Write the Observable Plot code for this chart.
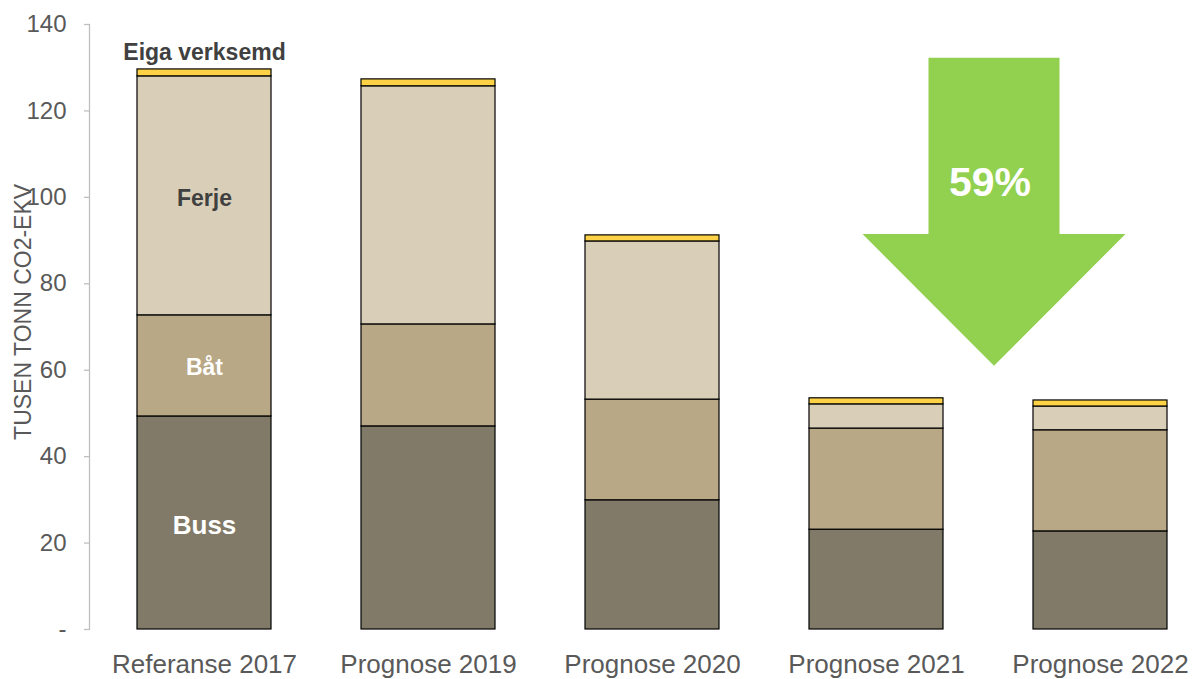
<!DOCTYPE html>
<html>
<head>
<meta charset="utf-8">
<script src="https://cdn.jsdelivr.net/npm/d3@7"></script>
<script src="https://cdn.jsdelivr.net/npm/@observablehq/plot@0.6"></script>
<style>
  html, body { margin: 0; padding: 0; background: #fff; }
  #chart svg { display: block; }
</style>
</head>
<body>
<div id="chart"></div>
<script>
const categories = ["Referanse 2017", "Prognose 2019", "Prognose 2020", "Prognose 2021", "Prognose 2022"];
const series = ["Buss", "Båt", "Ferje", "Eiga verksemd"];
const buss  = [49.3, 47.0, 29.9, 23.1, 22.7];
const baat  = [23.4, 23.6, 23.3, 23.4, 23.4];
const ferje = [55.3, 55.1, 36.6, 5.6, 5.5];
const eiga  = [1.6, 1.6, 1.4, 1.4, 1.4];
const yTicks = [0, 20, 40, 60, 80, 100, 120, 140];
const colors = ["#827a69", "#b8a886", "#d9cfb8", "#fdd247"];
const reductionLabel = "59%";

const valuesBySeries = [buss, baat, ferje, eiga];
const rows = [];
categories.forEach((c, i) => {
  series.forEach((s, j) => rows.push({category: c, series: s, value: valuesBySeries[j][i], order: j}));
});

// labels inside first bar (midpoints of segments)
const first = 0;
const cum = [];
let acc = 0;
valuesBySeries.forEach(v => { cum.push([acc, acc + v[first]]); acc += v[first]; });
const segLabels = [
  {category: categories[0], y: (cum[0][0] + cum[0][1]) / 2 - 0.6, text: "Buss", fill: "#ffffff", size: 26},
  {category: categories[0], y: (cum[1][0] + cum[1][1]) / 2 - 0.5, text: "Båt", fill: "#ffffff", size: 23},
  {category: categories[0], y: (cum[2][0] + cum[2][1]) / 2 - 0.6, text: "Ferje", fill: "#404040", size: 23},
];
const topLabel = [{category: categories[0], y: acc + 3.8, text: "Eiga verksemd"}];

// arrow annotation (in data units for y, between the last two categories for x)
const arrowTop = 132.2, arrowNeck = 91.4, arrowTip = 60.9;

const SVGNS = "http://www.w3.org/2000/svg";

function axisLine(index, scales, values, dims) {
  const y = scales.y;
  const l = document.createElementNS(SVGNS, "line");
  l.setAttribute("x1", dims.marginLeft - 0.5);
  l.setAttribute("x2", dims.marginLeft - 0.5);
  l.setAttribute("y1", y(140));
  l.setAttribute("y2", y(0));
  l.setAttribute("stroke", "#bfbfbf");
  l.setAttribute("stroke-width", 1.3);
  return l;
}

function arrowMark(index, scales, values, dims) {
  const x = scales.x;
  const y = scales.y;
  const bw = x.bandwidth ? x.bandwidth() : 0;
  const cx = (x(categories[3]) + x(categories[4]) + bw) / 2 + 6;
  const shaft = 65.5, head = 131.5;
  const yt = y(arrowTop), yn = y(arrowNeck), yp = y(arrowTip);
  const pts = [
    [cx - shaft, yt], [cx + shaft, yt], [cx + shaft, yn], [cx + head, yn],
    [cx, yp], [cx - head, yn], [cx - shaft, yn]
  ];
  const g = document.createElementNS(SVGNS, "g");
  const poly = document.createElementNS(SVGNS, "polygon");
  poly.setAttribute("points", pts.map(p => p.join(",")).join(" "));
  poly.setAttribute("fill", "#92d050");
  g.appendChild(poly);
  const t = document.createElementNS(SVGNS, "text");
  t.setAttribute("x", cx - 4);
  t.setAttribute("y", y(103.5));
  t.setAttribute("text-anchor", "middle");
  t.setAttribute("dominant-baseline", "central");
  t.setAttribute("fill", "#ffffff");
  t.setAttribute("font-weight", "bold");
  t.setAttribute("font-size", "41");
  t.setAttribute("font-family", "Liberation Sans, Arial, sans-serif");
  t.textContent = reductionLabel;
  g.appendChild(t);
  return g;
}

const chart = Plot.plot({
  width: 1192,
  height: 679,
  marginTop: 24,
  marginBottom: 50,
  marginLeft: 90,
  marginRight: 0,
  style: {fontFamily: "Liberation Sans, Arial, sans-serif", background: "#fff", overflow: "visible"},
  x: {domain: categories, range: [44.2, 1258.8], padding: 0.404, label: null},
  y: {domain: [0, 140], label: null},
  color: {domain: series, range: colors},
  marks: [
    Plot.barY(rows, Plot.stackY({
      x: "category", y: "value", fill: "series", order: "order",
      stroke: "#000", strokeWidth: 1.2
    })),
    Plot.axisY({
      ticks: yTicks, tickSize: 6, tickPadding: 18,
      tickFormat: d => d === 0 ? "-" : d,
      fontSize: 24, color: "#595959", stroke: "#bfbfbf", strokeWidth: 1.3
    }),
    axisLine,
    Plot.axisX({tickSize: 0, tickPadding: 25, fontSize: 26, color: "#595959", label: null}),
    Plot.text(["TUSEN TONN CO2-EKV"], {
      frameAnchor: "left", textAnchor: "middle", dx: -67, y: 73.5, rotate: -90, fontSize: 23, fill: "#595959"
    }),
    Plot.text(segLabels, {x: "category", y: "y", text: "text", fill: "fill", fontSize: "size", fontWeight: "bold"}),
    Plot.text(topLabel, {x: "category", y: "y", text: "text", fill: "#404040", fontSize: 23, fontWeight: "bold"}),
    arrowMark
  ]
});

document.getElementById("chart").appendChild(chart);
</script>
</body>
</html>
